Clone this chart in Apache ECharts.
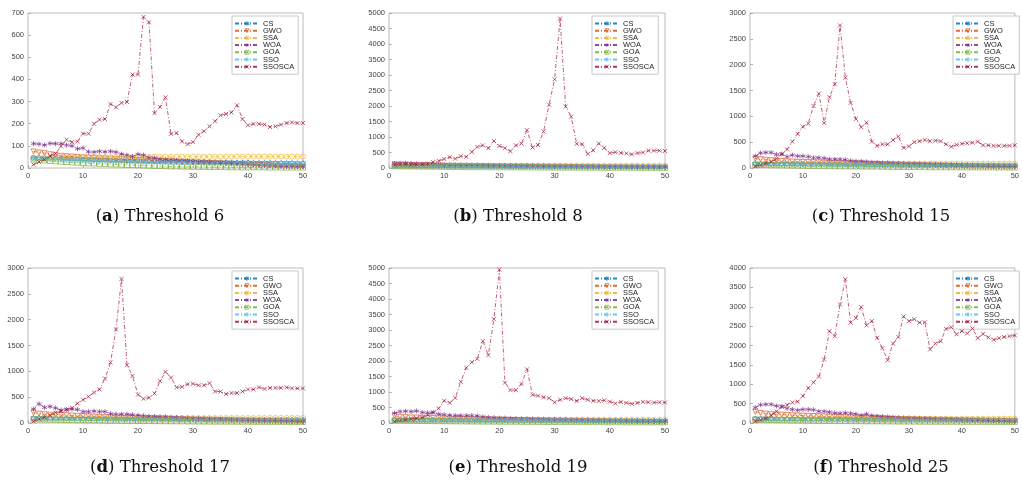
<!DOCTYPE html>
<html>
<head>
<meta charset="utf-8">
<script src="https://cdn.jsdelivr.net/npm/echarts@6/dist/echarts.min.js"></script>
<style>
  html, body { margin: 0; padding: 0; background: #fff; }
  #chart { width: 1022px; height: 484px; }
</style>
</head>
<body>
<div id="chart"></div>
<script>
// algorithm names, one per series
const names = ['CS', 'GWO', 'SSA', 'WOA', 'GOA', 'SSO', 'SSOSCA'];
const captions = ['a', 'b', 'c', 'd', 'e', 'f'];
const thresholds = [6, 8, 15, 17, 19, 25];
const yMax = [700, 5000, 3000, 3000, 5000, 4000];
const yStep = [100, 500, 500, 500, 500, 500];

// (a) threshold 6
const csA = [48,47,46,45,44,43,42,41,40,39,38,37,37,36,35,35,34,33,33,32,32,31,31,30,30,29,29,28,28,28,27,27,27,26,26,26,25,25,25,25,24,24,24,24,23,23,23,23,22,22];
const gwoA = [75,70,67,62,58,55,53,52,50,48,47,45,44,43,42,40,39,38,37,36,35,34,33,32,31,30,29,28,27,26,25,24,23,22,21,20,19,18,17,16,15,14,13,12,11,10,9,8,7,6];
const ssaA = [44,45,45,46,46,47,47,47,48,48,48,49,49,49,49,50,50,50,50,50,51,51,51,51,51,51,51,51,51,51,51,51,51,51,51,51,51,52,52,52,52,52,52,52,52,52,52,52,52,52];
const woaA = [110,108,104,111,110,110,103,100,87,90,73,72,75,73,75,72,63,58,52,62,58,47,45,40,38,37,35,33,32,30,28,28,27,25,24,23,22,20,19,17,15,13,12,11,10,9,8,8,7,7];
const goaA = [38,36,34,32,30,28,27,25,24,22,21,20,19,18,17,16,15,14,13,12,11,10,9,9,8,7,7,6,6,5,5,5,4,4,4,4,3,3,3,3,3,3,3,2,2,2,2,2,2,2];
const ssoA = [42,41,40,39,38,37,36,35,35,34,33,33,32,31,31,30,30,29,29,28,28,27,27,26,26,26,25,25,24,24,24,23,23,23,22,22,22,22,21,21,21,21,20,20,20,20,20,19,19,19];
const ssoscaA = [15,27,38,53,65,98,128,117,120,155,155,200,218,221,289,274,294,298,422,422,682,658,248,276,319,154,158,120,108,117,150,166,188,211,238,244,251,283,221,193,199,199,196,185,188,196,203,206,203,203];

// (b) threshold 8
const csB = [70,68,66,64,62,60,58,57,56,55,54,53,52,51,50,50,49,48,48,47,47,46,46,45,45,45,44,44,44,43,43,43,42,42,42,42,41,41,41,41,40,40,40,40,40,39,39,39,39,39];
const gwoB = [120,110,100,95,90,88,85,82,80,78,76,74,72,70,68,66,64,62,60,58,56,54,52,50,48,46,44,42,40,38,36,34,32,30,28,26,24,22,20,19,18,17,16,15,14,13,12,11,10,10];
const ssaB = [60,62,63,64,65,66,67,68,68,69,70,70,71,71,72,72,72,73,73,73,74,74,74,74,75,75,75,75,75,75,75,76,76,76,76,76,76,76,76,76,76,77,77,77,77,77,77,77,77,77];
const woaB = [150,155,160,150,140,130,120,115,110,105,100,98,95,92,90,88,86,84,82,80,78,76,74,72,70,68,66,64,62,60,58,56,55,54,53,52,51,50,49,48,47,46,45,44,43,42,41,40,39,38];
const goaB = [55,52,50,48,46,44,42,40,38,36,34,32,30,29,28,27,26,25,24,23,22,21,20,19,18,17,16,15,14,13,12,12,11,11,10,10,10,9,9,9,8,8,8,8,7,7,7,7,7,7];
const ssoB = [65,63,61,60,58,57,56,55,54,53,52,51,50,50,49,48,48,47,47,46,46,45,45,45,44,44,44,43,43,43,42,42,42,42,41,41,41,41,40,40,40,40,40,39,39,39,39,39,38,38];
const ssoscaB = [100,110,120,100,110,120,140,190,230,290,350,300,380,360,520,680,730,640,870,710,640,540,730,790,1220,660,740,1180,2040,2860,4820,1980,1660,780,770,450,570,790,650,480,510,490,470,440,480,500,560,560,560,550];

// (c) threshold 15
const csC = [90,88,86,84,82,80,79,78,77,76,75,74,73,72,71,70,69,68,67,66,65,64,63,62,61,60,60,59,58,58,57,57,56,56,55,55,54,54,53,53,53,52,52,52,51,51,51,50,50,50];
const gwoC = [180,170,160,150,140,135,130,125,120,118,115,112,110,105,100,98,95,92,90,88,85,82,80,78,75,72,70,68,65,62,60,58,55,52,50,48,45,42,40,38,36,34,32,30,28,26,24,22,20,18];
const ssaC = [70,72,73,74,75,76,77,78,78,79,79,80,80,80,81,81,81,82,82,82,82,83,83,83,83,83,84,84,84,84,84,84,85,85,85,85,85,85,85,85,85,85,86,86,86,86,86,86,86,86];
const woaC = [230,290,300,300,260,270,220,250,230,230,220,200,200,190,170,170,170,160,140,130,130,120,110,110,100,100,95,90,85,80,80,78,75,72,70,68,65,62,60,58,55,52,50,48,45,42,40,38,36,35];
const goaC = [60,58,56,54,52,50,48,46,44,42,40,38,36,35,34,33,32,31,30,29,28,27,26,25,24,23,22,21,20,19,18,17,16,16,15,15,14,14,13,13,12,12,12,11,11,11,10,10,10,10];
const ssoC = [75,74,73,72,71,70,70,69,69,68,68,67,67,66,66,65,65,65,64,64,64,63,63,63,63,62,62,62,62,62,61,61,61,61,61,60,60,60,60,60,60,60,59,59,59,59,59,59,59,59];
const ssoscaC = [30,60,90,120,180,270,360,510,660,800,860,1200,1440,870,1370,1620,2760,1750,1260,950,790,880,510,430,460,460,540,610,390,420,500,520,540,520,530,520,460,410,450,470,480,490,510,440,440,430,430,430,430,440];

// (d) threshold 17
const csD = [100,98,96,94,92,90,89,88,87,86,85,84,83,82,81,80,79,78,77,76,75,74,73,72,71,70,70,69,68,68,67,67,66,66,65,65,64,64,63,63,63,62,62,62,61,61,61,60,60,60];
const gwoD = [200,180,170,160,160,155,150,145,140,135,130,125,120,115,110,108,105,100,98,95,92,90,88,85,82,80,78,75,72,70,68,65,62,60,58,55,52,50,48,45,42,40,38,35,32,30,28,25,22,20];
const ssaD = [80,82,84,85,86,87,88,89,90,90,91,91,92,92,92,93,93,93,94,94,94,94,95,95,95,95,95,96,96,96,96,96,96,96,97,97,97,97,97,97,97,97,97,98,98,98,98,98,98,98];
const woaD = [270,370,300,320,290,250,260,270,260,220,220,230,220,220,180,170,170,170,160,150,140,130,125,120,120,110,105,100,95,90,88,85,80,78,75,72,70,65,62,60,57,55,52,50,48,45,42,40,38,35];
const goaD = [70,68,66,64,62,60,58,56,54,52,50,48,46,45,44,43,42,41,40,39,38,37,36,35,34,33,32,31,30,29,28,27,26,26,25,25,24,24,23,23,22,22,22,21,21,21,20,20,20,20];
const ssoD = [85,84,83,82,81,80,80,79,79,78,78,77,77,76,76,75,75,75,74,74,74,73,73,73,73,72,72,72,72,72,71,71,71,71,71,70,70,70,70,70,70,70,69,69,69,69,69,69,69,69];
const ssoscaD = [30,80,110,150,200,230,260,290,380,450,510,590,650,860,1170,1810,2790,1120,910,550,470,490,570,810,990,880,690,700,750,760,730,730,770,610,610,560,580,580,610,650,650,690,660,680,680,680,690,670,670,670];

// (e) threshold 19
const csE = [110,108,106,104,102,100,98,96,95,94,93,92,91,90,89,88,87,86,85,84,83,82,81,80,79,78,78,77,76,76,75,75,74,74,73,73,72,72,71,71,71,70,70,70,69,69,69,68,68,68];
const gwoE = [230,200,190,180,175,170,165,160,155,150,145,140,135,130,125,120,118,115,112,110,105,100,98,95,92,90,88,85,82,80,78,75,72,70,68,65,62,60,58,55,52,50,48,45,42,40,38,35,32,30];
const ssaE = [90,92,94,95,96,97,98,99,100,100,101,101,102,102,102,103,103,103,104,104,104,104,105,105,105,105,105,106,106,106,106,106,106,106,107,107,107,107,107,107,107,107,107,108,108,108,108,108,108,108];
const woaE = [320,370,380,370,390,340,330,340,290,270,250,240,240,240,240,230,200,180,170,160,160,150,145,140,140,130,125,120,115,110,108,105,100,98,95,92,90,88,85,82,80,78,75,72,70,68,65,62,60,58];
const goaE = [80,77,74,71,68,65,62,60,58,56,54,52,50,48,46,45,44,43,42,41,40,39,38,37,36,35,34,33,32,31,30,29,28,28,27,27,26,26,25,25,24,24,24,23,23,23,22,22,22,22];
const ssoE = [95,94,93,92,91,90,90,89,89,88,88,87,87,86,86,85,85,85,84,84,84,83,83,83,83,82,82,82,82,82,81,81,81,81,81,80,80,80,80,80,80,80,79,79,79,79,79,79,79,79];
const ssoscaE = [50,80,100,120,150,180,260,340,470,720,650,810,1330,1780,1960,2070,2640,2190,3350,4950,1300,1060,1060,1260,1730,910,880,830,800,670,750,800,770,710,800,750,720,710,730,690,630,680,650,620,650,680,670,660,670,660];

// (f) threshold 25
const csF = [120,118,116,114,112,110,108,106,105,104,103,102,101,100,99,98,97,96,95,94,93,92,91,90,89,88,88,87,86,86,85,85,84,84,83,83,82,82,81,81,81,80,80,80,79,79,79,78,78,78];
const gwoF = [290,260,240,230,220,215,210,200,195,190,185,180,175,170,165,160,155,150,145,140,135,130,125,120,115,110,105,100,98,95,92,90,88,85,82,80,78,75,72,70,68,65,62,60,58,55,52,50,48,45];
const ssaF = [95,97,99,100,101,102,103,104,105,105,106,106,107,107,107,108,108,108,109,109,109,109,110,110,110,110,110,111,111,111,111,111,111,111,112,112,112,112,112,112,112,112,112,113,113,113,113,113,113,113];
const woaF = [400,470,480,480,440,430,380,350,330,350,350,340,300,300,280,260,250,260,250,230,200,230,190,180,170,160,150,140,130,130,125,120,115,110,105,100,98,95,90,85,82,80,75,70,68,65,60,55,50,45];
const goaF = [85,82,79,76,73,70,67,65,63,61,59,57,55,53,51,50,49,48,47,46,45,44,43,42,41,40,39,38,37,36,35,34,33,33,32,32,31,31,30,30,29,29,29,28,28,28,27,27,27,27];
const ssoF = [100,99,98,97,96,95,95,94,94,93,93,92,92,91,91,90,90,90,89,89,89,88,88,88,88,87,87,87,87,87,86,86,86,86,86,85,85,85,85,85,85,85,84,84,84,84,84,84,84,84];
const ssoscaF = [40,80,120,200,300,420,470,530,550,700,900,1050,1200,1640,2370,2240,3060,3710,2590,2710,2990,2520,2630,2200,1930,1620,2050,2220,2750,2630,2680,2590,2600,1900,2050,2110,2430,2470,2290,2370,2310,2440,2190,2300,2210,2150,2190,2220,2240,2260];

const panels = [
  [csA, gwoA, ssaA, woaA, goaA, ssoA, ssoscaA],
  [csB, gwoB, ssaB, woaB, goaB, ssoB, ssoscaB],
  [csC, gwoC, ssaC, woaC, goaC, ssoC, ssoscaC],
  [csD, gwoD, ssaD, woaD, goaD, ssoD, ssoscaD],
  [csE, gwoE, ssaE, woaE, goaE, ssoE, ssoscaE],
  [csF, gwoF, ssaF, woaF, goaF, ssoF, ssoscaF]
];

const colors = ['#0072BD', '#D95319', '#EDB120', '#7E2F8E', '#77AC30', '#4DBEEE', '#A2142F'];
const symbols = [
  'path://M5,0 L6.4,2.6 L9.3,2.5 L7.9,5 L9.3,7.5 L6.4,7.4 L5,10 L3.6,7.4 L0.7,7.5 L2.1,5 L0.7,2.5 L3.6,2.6 Z',
  'path://M0,0 L10,0 L5,8.7 Z',
  'circle',
  'path://M5,0 L5,10 M0.7,2.5 L9.3,7.5 M9.3,2.5 L0.7,7.5',
  'rect',
  'diamond',
  'path://M0,0 L10,10 M10,0 L0,10'
];

// plot boxes, pixel positions
const lefts = [28, 389, 750];
const widths = [275, 276, 273];
const tops = [13, 268];
const legendLefts = [232, 592, 953];
const captionX = [160, 518, 881];
const captionY = [217, 468];

const grid = [], xAxis = [], yAxis = [], legend = [], series = [], graphic = [];

panels.forEach((p, k) => {
  const col = k % 3, row = Math.floor(k / 3);
  grid.push({
    left: lefts[col], top: tops[row], width: widths[col], height: 155,
    show: true, borderColor: '#aaa', borderWidth: 0.8, backgroundColor: 'transparent'
  });
  xAxis.push({
    type: 'value', gridIndex: k, min: 0, max: 50, interval: 10,
    axisLine: { show: false },
    axisTick: { inside: true, length: 3, lineStyle: { color: '#999', width: 0.7 } },
    axisLabel: { fontSize: 7.5, color: '#444', margin: 4, fontFamily: 'Liberation Sans' },
    splitLine: { show: false }
  });
  yAxis.push({
    type: 'value', gridIndex: k, min: 0, max: yMax[k], interval: yStep[k],
    axisLine: { show: false },
    axisTick: { show: true, inside: true, length: 3, lineStyle: { color: '#999', width: 0.7 } },
    axisLabel: { fontSize: 7.5, color: '#444', margin: 4, fontFamily: 'Liberation Sans', formatter: v => String(v) },
    splitLine: { show: false }
  });
  legend.push({
    data: names, orient: 'vertical', left: legendLefts[col], top: tops[row] + 3,
    itemWidth: 24, itemHeight: 5, itemGap: -1.8, padding: [3, 4, 3, 2],
    borderColor: '#bbb', borderWidth: 0.8, backgroundColor: '#fff', borderRadius: 0,
    itemStyle: { color: 'none', borderWidth: 0.8 },
    textStyle: { fontSize: 7.5, lineHeight: 7, color: '#222', fontFamily: 'Liberation Sans', padding: [0, 0, 0, -1] },
    selectedMode: false
  });
  p.forEach((vals, s) => {
    series.push({
      name: names[s], type: 'line', xAxisIndex: k, yAxisIndex: k,
      data: vals.map((v, i) => [i + 1, v]),
      symbol: symbols[s], symbolSize: s === 6 ? 4 : 5,
      lineStyle: { color: colors[s], width: 0.8, type: [4, 2, 1, 2], opacity: 0.85 },
      itemStyle: { color: 'rgba(0,0,0,0)', borderColor: colors[s], borderWidth: 0.8, opacity: 0.85 },
      emphasis: { disabled: true },
      z: 2 + s
    });
  });
  graphic.push({
    type: 'text', x: captionX[col], y: captionY[row],
    style: {
      text: '({b|' + captions[k] + '}) Threshold ' + thresholds[k],
      fontFamily: 'DejaVu Serif', fontSize: 16.5, fill: '#111',
      align: 'center', verticalAlign: 'middle',
      rich: { b: { fontWeight: 'bold', fontFamily: 'DejaVu Serif', fontSize: 16.5 } }
    }
  });
});

const chart = echarts.init(document.getElementById('chart'));
chart.setOption({
  animation: false,
  grid: grid,
  xAxis: xAxis,
  yAxis: yAxis,
  legend: legend,
  series: series,
  graphic: graphic
});
</script>
</body>
</html>
